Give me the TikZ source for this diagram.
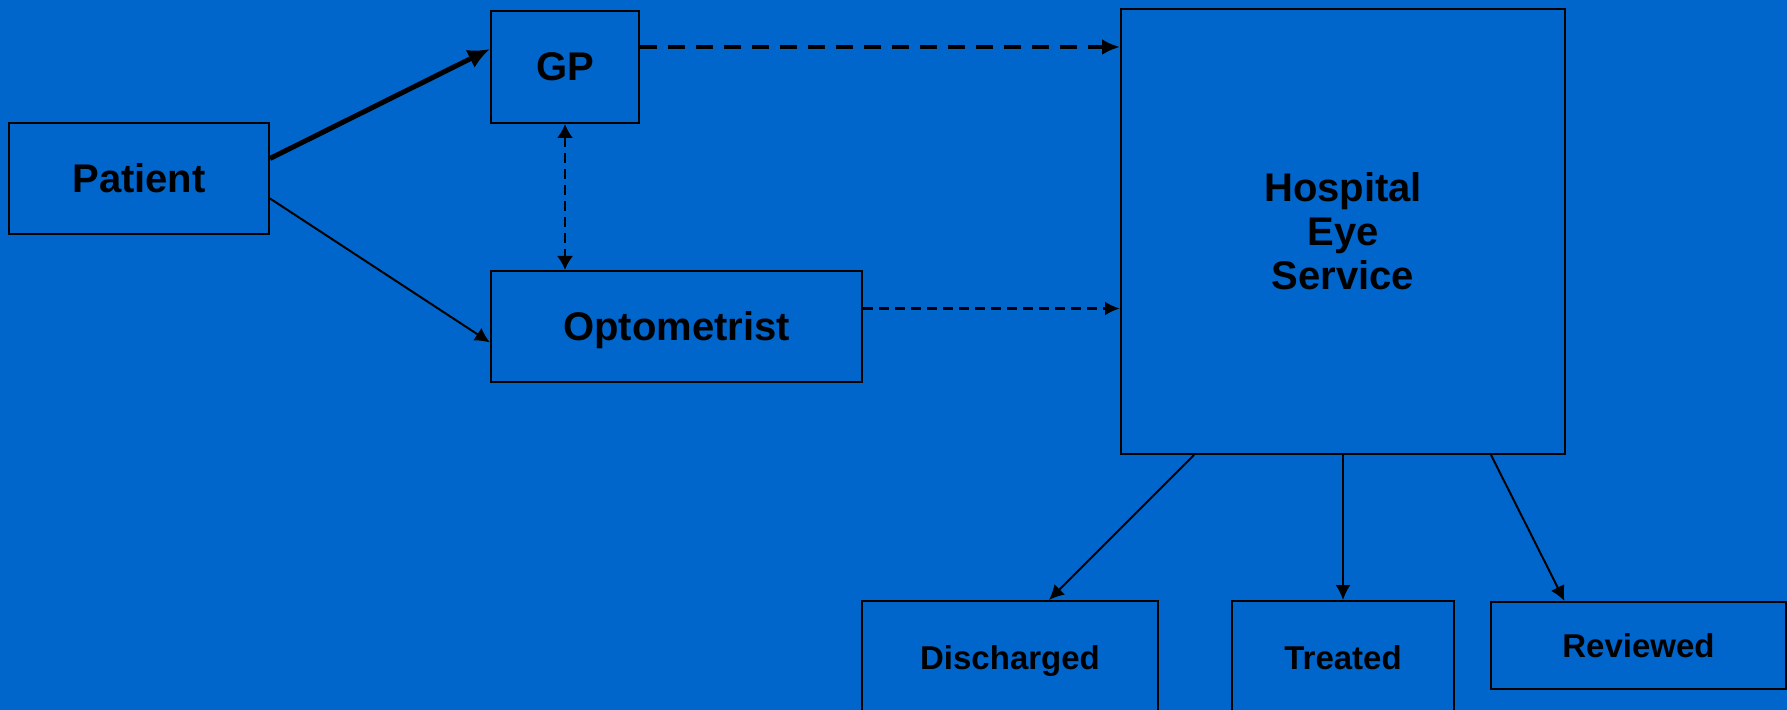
\documentclass[tikz,border=0pt]{standalone}
\usepackage{fontspec}
\setmainfont{Liberation Sans}
\usetikzlibrary{positioning,arrows.meta}
\definecolor{slidebg}{RGB}{0,102,204}

\begin{document}
\begin{tikzpicture}[x=0.5pt,y=-0.5pt]
\tikzstyle{box}=[draw=black, line width=1pt, inner sep=0pt, align=center, text depth=0pt, font=\fontsize{20pt}{22pt}\selectfont\bfseries]
\tikzstyle{outbox}=[box, font=\fontsize{16.5pt}{18pt}\selectfont\bfseries]
\tikzstyle{flow}=[black, line width=1pt, -{Latex[length=7.5pt,width=7.5pt]}]
\tikzstyle{referral}=[black, dash pattern=on 5pt off 3pt]
\useasboundingbox (0,0) rectangle (1787,710);
\fill [slidebg] (0,0) rectangle (1787,710);
\clip (0,0) rectangle (1787,710);
% boxes
\node [box, minimum width=130pt, minimum height=55.5pt] (patient) at (139,178.5) {Patient};
\node [box, minimum width=74pt, minimum height=56pt] (gp) at (565,67) {GP};
\node [box, minimum width=185.5pt, minimum height=55.5pt] (opt) at (676.5,326.5) {Optometrist};
\node [box, minimum width=222pt, minimum height=222.5pt] (hes) at (1343,231.5) {Hospital\\Eye\\Service};
\node [outbox, minimum width=148pt, minimum height=57pt] (discharged) at (1010,658) {Discharged};
\node [outbox, minimum width=111pt, minimum height=57pt] (treated) at (1343,658) {Treated};
\node [outbox, minimum width=147.5pt, minimum height=43.5pt] (reviewed) at (1638.5,645.5) {Reviewed};
% patient routes
\draw [black, line width=2.5pt, -{Latex[length=11pt,width=10pt]}] ([yshift=10pt]patient.east) -- ([yshift=9pt]gp.west);
\draw [flow] ([yshift=-10pt]patient.east) -- ([yshift=-8pt]opt.west);
\draw [referral, line width=1pt, {Latex[length=7pt,width=8pt]}-{Latex[length=7pt,width=8pt]}] (gp.south) -- (gp.south |- opt.north);
% referrals to hospital
\draw [referral, line width=2pt, dash pattern=on 8.5pt off 5.5pt, -{Latex[length=9pt,width=8pt]}] ([yshift=10pt]gp.east) -- ([yshift=10pt]gp.east -| hes.west);
\draw [referral, line width=1.5pt, -{Latex[length=7.5pt,width=7pt]}] ([yshift=9pt]opt.east) -- ([yshift=9pt]opt.east -| hes.west);
% outcomes
\draw [flow] ([xshift=-74.5pt]hes.south) -- ([xshift=19.5pt]discharged.north);
\draw [flow] (hes.south) -- (treated.north);
\draw [flow] ([xshift=74pt]hes.south) -- ([xshift=-37pt]reviewed.north);
\end{tikzpicture}
\end{document}
